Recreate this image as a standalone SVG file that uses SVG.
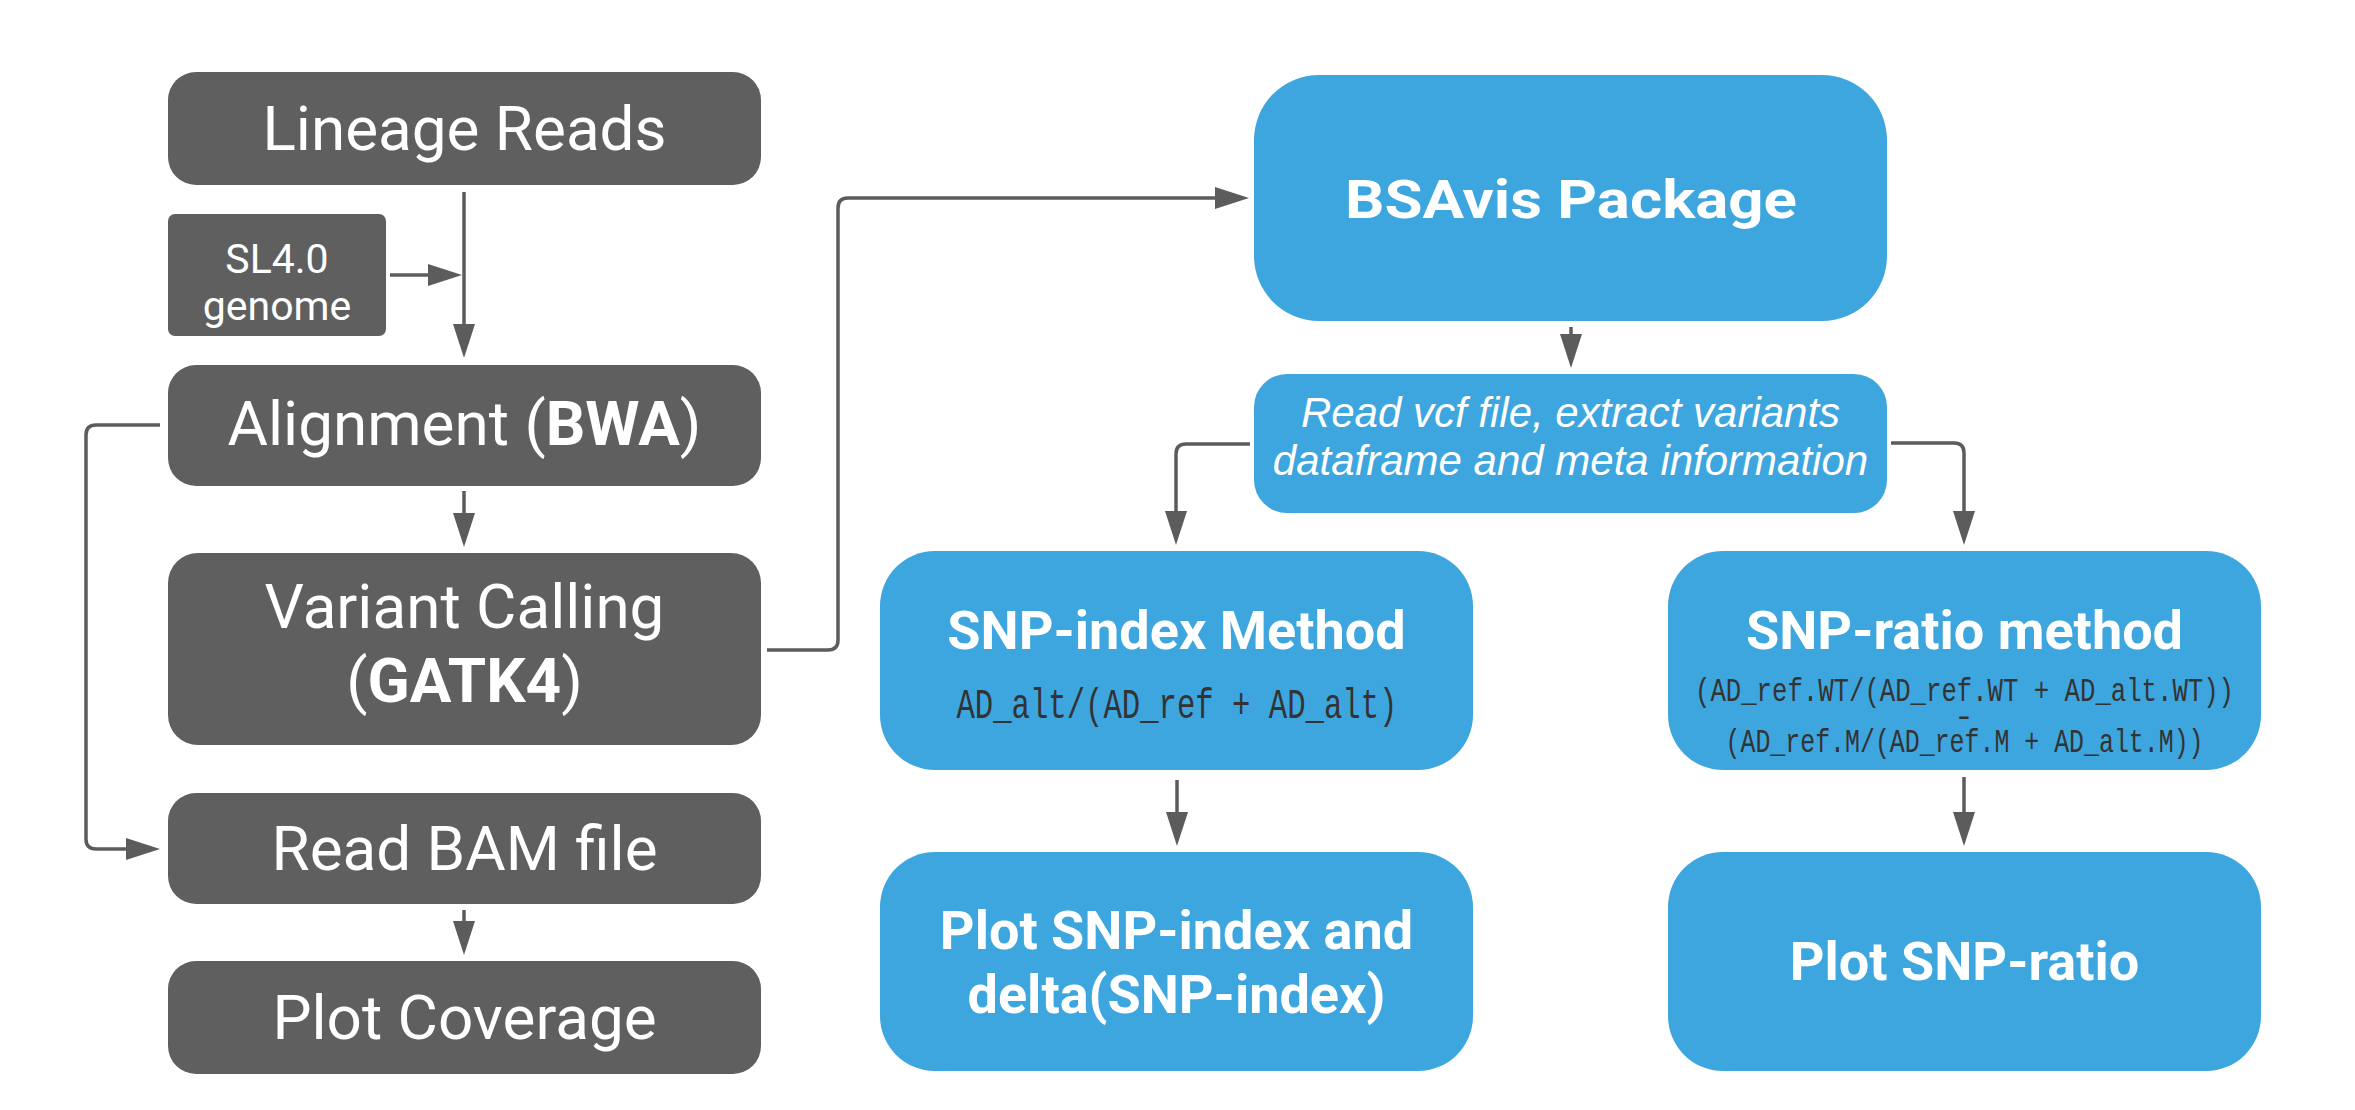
<svg xmlns="http://www.w3.org/2000/svg" width="2355" height="1110" viewBox="0 0 2355 1110">
<style>
.g{fill:#5f5f5f}
.b{fill:#3ea6de}
.gt{font-family:Roboto,"Liberation Sans",sans-serif;font-size:62px;fill:#ffffff;text-anchor:middle}
.st{font-family:Roboto,"Liberation Sans",sans-serif;font-size:41px;fill:#ffffff;text-anchor:middle}
.bt{font-family:Roboto,"Liberation Sans",sans-serif;font-size:54px;font-weight:bold;fill:#ffffff;text-anchor:middle}
.it{font-family:"Liberation Sans",Arial,sans-serif;font-size:42px;font-style:italic;fill:#ffffff;text-anchor:middle}
.ft{font-family:"Liberation Mono","DejaVu Sans Mono",monospace;fill:#333333;text-anchor:middle}
.c{fill:none;stroke:#5c5c5c;stroke-width:3.5}
</style>
<defs>
<marker id="ah" markerUnits="userSpaceOnUse" markerWidth="34" markerHeight="22" viewBox="0 0 34 22" refX="0" refY="11" orient="auto">
<path d="M0,0 L34,11 L0,22 z" fill="#5c5c5c"/>
</marker>
</defs>
<rect width="2355" height="1110" fill="#ffffff"/>
<g id="connectors">
<path class="c" d="M464,192 V324" marker-end="url(#ah)"/>
<path class="c" d="M390,275 H428" marker-end="url(#ah)"/>
<path class="c" d="M464,491 V513" marker-end="url(#ah)"/>
<path class="c" d="M160,425 H96 Q86,425 86,435 V839 Q86,849 96,849 H126" marker-end="url(#ah)"/>
<path class="c" d="M464,910 V921" marker-end="url(#ah)"/>
<path class="c" d="M767,650 H828 Q838,650 838,640 V208 Q838,198 848,198 H1215" marker-end="url(#ah)"/>
<path class="c" d="M1571,327 V334" marker-end="url(#ah)"/>
<path class="c" d="M1250,444 H1186 Q1176,444 1176,454 V511" marker-end="url(#ah)"/>
<path class="c" d="M1891,443 H1954 Q1964,443 1964,453 V511" marker-end="url(#ah)"/>
<path class="c" d="M1177,780 V812" marker-end="url(#ah)"/>
<path class="c" d="M1964,777 V812" marker-end="url(#ah)"/>
</g>
<g id="lineage-reads">
<rect class="g" x="168" y="72" width="593" height="113" rx="28"/>
<text class="gt" x="464.5" y="150">Lineage Reads</text>
</g>
<g id="sl40-genome">
<rect class="g" x="168" y="214" width="218" height="122" rx="7"/>
<text class="st" x="277" y="273">SL4.0</text>
<text class="st" x="277" y="320">genome</text>
</g>
<g id="alignment">
<rect class="g" x="168" y="365" width="593" height="121" rx="28"/>
<text class="gt" x="464.5" y="445">Alignment (<tspan font-weight="bold">BWA</tspan>)</text>
</g>
<g id="variant-calling">
<rect class="g" x="168" y="553" width="593" height="192" rx="30"/>
<text class="gt" x="464.5" y="628">Variant Calling</text>
<text class="gt" x="464.5" y="702">(<tspan font-weight="bold">GATK4</tspan>)</text>
</g>
<g id="read-bam">
<rect class="g" x="168" y="793" width="593" height="111" rx="28"/>
<text class="gt" x="464.5" y="870">Read BAM file</text>
</g>
<g id="plot-coverage">
<rect class="g" x="168" y="961" width="593" height="113" rx="28"/>
<text class="gt" x="464.5" y="1039">Plot Coverage</text>
</g>
<g id="bsavis">
<rect class="b" x="1254" y="75" width="633" height="246" rx="65"/>
<text class="bt" x="1571" y="218" font-size="64" textLength="452" lengthAdjust="spacingAndGlyphs">BSAvis Package</text>
</g>
<g id="read-vcf">
<rect class="b" x="1254" y="374" width="633" height="139" rx="33"/>
<text class="it" x="1570.5" y="427">Read vcf file, extract variants</text>
<text class="it" x="1570.5" y="475">dataframe and meta information</text>
</g>
<g id="snp-index">
<rect class="b" x="880" y="551" width="593" height="219" rx="55"/>
<text class="bt" x="1176.5" y="649">SNP-index Method</text>
<text class="ft" x="1177" y="718" font-size="42" textLength="441" lengthAdjust="spacingAndGlyphs">AD_alt/(AD_ref + AD_alt)</text>
</g>
<g id="plot-snp-index">
<rect class="b" x="880" y="852" width="593" height="219" rx="55"/>
<text class="bt" x="1176.5" y="949">Plot SNP-index and</text>
<text class="bt" x="1176.5" y="1013">delta(SNP-index)</text>
</g>
<g id="snp-ratio">
<rect class="b" x="1668" y="551" width="593" height="219" rx="55"/>
<text class="bt" x="1964.5" y="649">SNP-ratio method</text>
<text class="ft" x="1964.5" y="701" font-size="34" textLength="539" lengthAdjust="spacingAndGlyphs">(AD_ref.WT/(AD_ref.WT + AD_alt.WT))</text>
<text class="ft" x="1964" y="727" font-size="34">-</text>
<text class="ft" x="1964.5" y="752" font-size="34" textLength="478" lengthAdjust="spacingAndGlyphs">(AD_ref.M/(AD_ref.M + AD_alt.M))</text>
</g>
<g id="plot-snp-ratio">
<rect class="b" x="1668" y="852" width="593" height="219" rx="55"/>
<text class="bt" x="1964.5" y="980">Plot SNP-ratio</text>
</g>
</svg>
